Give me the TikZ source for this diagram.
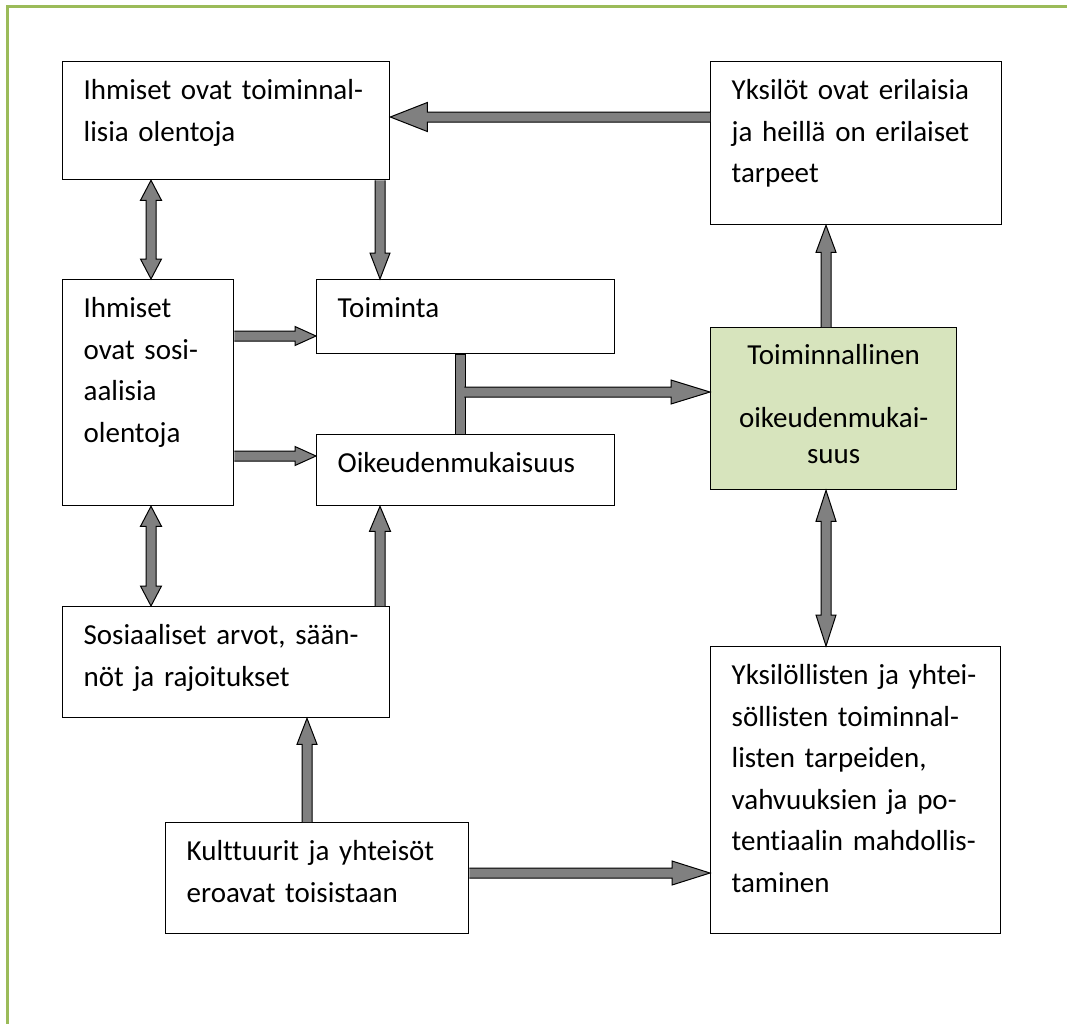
\documentclass[tikz,border=0pt]{standalone}
\usepackage{fontspec}
\setmainfont{Carlito}[Ligatures=NoCommon]
\usetikzlibrary{calc}
\definecolor{Frame}{HTML}{9BBB59}
\definecolor{Shaft}{HTML}{808080}
\definecolor{GBg}{HTML}{D7E4BD}

\begin{document}
\begin{tikzpicture}[x=1pt, y=-1pt,
  every node/.style={font=\fontsize{29}{41.5}\selectfont},
  bx/.style 2 args={rectangle, draw=black, line width=1.3pt, anchor=north west,
             inner xsep=21pt, inner ysep=0pt, align=left,
             text width=#1, text height=38pt, text depth=#2},
  gx/.style 2 args={rectangle, draw=black, line width=1.3pt, fill=GBg, anchor=north west,
             inner xsep=10pt, inner ysep=0pt, align=center,
             font=\fontsize{29}{36}\selectfont,
             text width=#1, text height=37pt, text depth=#2},
  arrowhead/.code 2 args={\def\ahw{#1}\def\ahl{#2}},
  blk/.style={draw=black, fill=Shaft, line width=1pt,
    to path={let \p1=(\tikztostart), \p2=(\tikztotarget), \p3=($(\p2)!\ahl!(\p1)$) in
      ($(\p1)!5pt!90:(\p2)$) -- ($(\p3)!5pt!90:(\p2)$) -- ($(\p3)!\ahw!90:(\p2)$) -- (\p2)
      -- ($(\p3)!\ahw!-90:(\p2)$) -- ($(\p3)!5pt!-90:(\p2)$) -- ($(\p1)!5pt!-90:(\p2)$)}},
  dblk/.style={draw=black, fill=Shaft, line width=1pt,
    to path={let \p1=(\tikztostart), \p2=(\tikztotarget),
                 \p3=($(\p1)!\ahl!(\p2)$), \p4=($(\p2)!\ahl!(\p1)$) in
      (\p1) -- ($(\p3)!\ahw!90:(\p2)$) -- ($(\p3)!5pt!90:(\p2)$) -- ($(\p4)!5pt!90:(\p2)$)
      -- ($(\p4)!\ahw!90:(\p2)$) -- (\p2) -- ($(\p4)!\ahw!-90:(\p2)$) -- ($(\p4)!5pt!-90:(\p2)$)
      -- ($(\p3)!5pt!-90:(\p2)$) -- ($(\p3)!\ahw!-90:(\p2)$) -- cycle}},
  rod/.style={draw=black, fill=Shaft, line width=1pt,
    to path={let \p1=(\tikztostart), \p2=(\tikztotarget) in
      ($(\p1)!5pt!90:(\p2)$) -- ($(\p2)!5pt!-90:(\p1)$) -- ($(\p2)!5pt!90:(\p1)$)
      -- ($(\p1)!5pt!-90:(\p2)$) -- cycle}},
]
\useasboundingbox (0,0) rectangle (1067,1023);
\draw[Frame, line width=2.5pt] (7.5,1030) -- (7.5,6.5) -- (1070,6.5);

\node[bx={285pt}{80pt}]  (hto) at (62,61)   {Ihmiset ovat toiminnal-\\lisia olentoja};
\node[bx={249pt}{125pt}] (yks) at (710,61)  {Yksilöt ovat erilaisia\\ja heillä on erilaiset\\tarpeet};
\node[bx={129pt}{188pt}] (hso) at (62,279)  {Ihmiset\\ovat sosi-\\aalisia\\olentoja};
\node[bx={256pt}{36pt}]  (toi) at (316,279) {Toiminta};
\node[bx={256pt}{33pt}]  (oik) at (316,434) {Oikeudenmukaisuus};
\node[gx={226pt}{125pt}] (too) at (710,327) {Toiminnallinen\\[27pt]oikeudenmukai-\\suus};
\node[bx={285pt}{73pt}]  (arv) at (62,606)  {Sosiaaliset arvot, sään-\\nöt ja rajoitukset};
\node[bx={261pt}{73pt}]  (kul) at (165,822) {Kulttuurit ja yhteisöt\\eroavat toisistaan};
\node[bx={248pt}{249pt}] (mah) at (710,646) {Yksilöllisten ja yhtei-\\söllisten toiminnal-\\listen tarpeiden,\\vahvuuksien ja po-\\tentiaalin mahdollis-\\taminen};

\draw[blk, arrowhead={14.5pt}{37pt}] (yks.west |- 0,117) to (hto.east |- 0,117);
\draw[blk, arrowhead={10pt}{26pt}]   (380,0 |- hto.south) to (380,0 |- toi.north);
\draw[dblk, arrowhead={10.5pt}{20pt}] (151,0 |- hto.south) to (151,0 |- hso.north);
\draw[dblk, arrowhead={10.5pt}{20pt}] (151,0 |- hso.south) to (151,0 |- arv.north);
\draw[blk, arrowhead={9.5pt}{21pt}]  (hso.east |- 0,336) to (toi.west |- 0,336);
\draw[blk, arrowhead={9.5pt}{21pt}]  (hso.east |- 0,456) to (oik.west |- 0,456);
%% Toiminta and Oikeudenmukaisuus are joined by one bar that feeds the green box
\draw[rod] (460,0 |- toi.south) to (460,0 |- oik.north);
\coordinate (jct) at (464.4,392);
\draw[blk, arrowhead={12pt}{39pt}]   (jct) to (too.west |- jct);
\draw[blk, arrowhead={10.5pt}{25pt}] (380,0 |- arv.north) to (380,0 |- oik.south);
\draw[blk, arrowhead={10pt}{26pt}]   (307,0 |- kul.north) to (307,0 |- arv.south);
\draw[blk, arrowhead={12pt}{38pt}]   (kul.east |- 0,873) to (mah.west |- 0,873);
\draw[blk, arrowhead={10pt}{27pt}]   (826,0 |- too.north) to (826,0 |- yks.south);
\draw[dblk, arrowhead={10pt}{31pt}]  (826,0 |- too.south) to (826,0 |- mah.north);
\end{tikzpicture}
\end{document}
